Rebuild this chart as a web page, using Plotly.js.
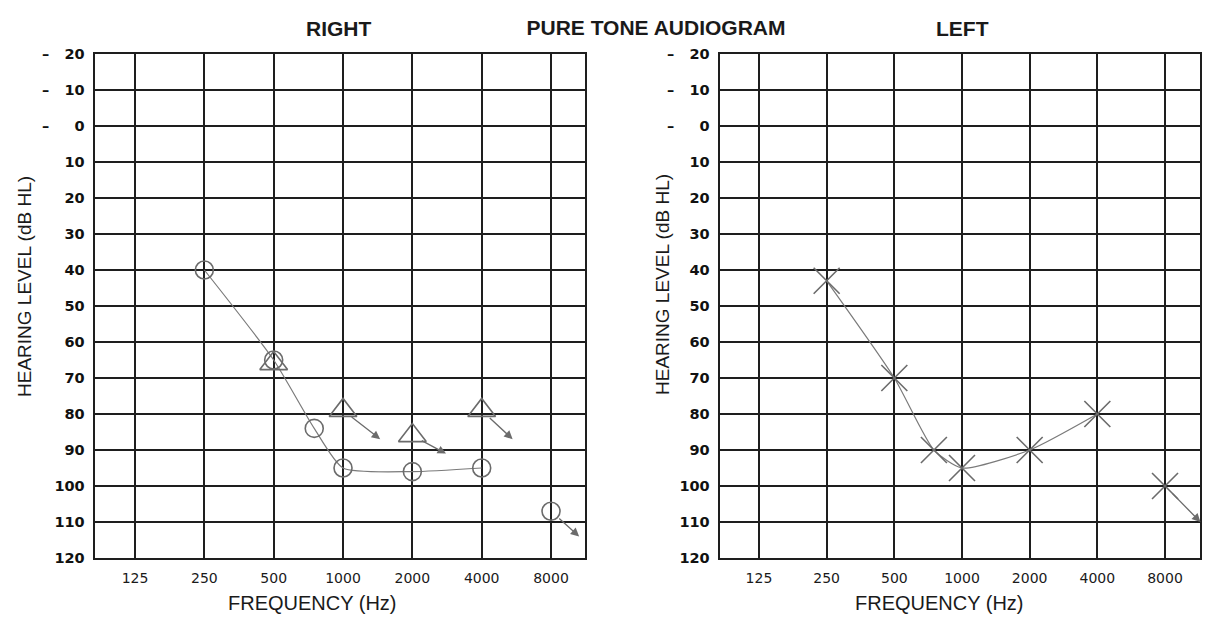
<!DOCTYPE html>
<html>
<head>
<meta charset="utf-8">
<script src="https://cdn.plot.ly/plotly-3.0.1.min.js"></script>
<style>html,body{margin:0;padding:0;background:#fff;}#chart{width:1212px;height:619px;}</style>
</head>
<body>
<div id="chart"></div>
<script>
// ---- Data ----
var freqTicks = [125, 250, 500, 1000, 2000, 4000, 8000];
var freqTickLabels = ['125', '250', '500', '1000', '2000', '4000', '8000'];
var dbTicks = [-20, -10, 0, 10, 20, 30, 40, 50, 60, 70, 80, 90, 100, 110, 120];

// Right ear (left panel) - circles
var rightAirFreq = [250, 500, 750, 1000, 2000, 4000];
var rightAirDb = [40, 65, 84, 95, 96, 95];
var rightNoRespFreq = [8000];
var rightNoRespDb = [107];
// Right ear - triangles
var rightTriFreq = [500, 1000, 2000, 4000];
var rightTriDb = [66, 79, 86, 79];
// Right ear arrows (no response markers)
var rightArrowFromFreq = [1000, 2000, 4000, 8000];
var rightArrowFromDb = [79, 86, 79, 107];
var rightArrowToFreq = [1450, 2800, 5450, 10600];
var rightArrowToDb = [87, 91, 87, 114];

// Left ear (right panel) - crosses
var leftAirFreq = [250, 500, 750, 1000, 2000, 4000];
var leftAirDb = [43, 70, 90, 95, 90, 80];
var leftNoRespFreq = [8000];
var leftNoRespDb = [100];
var leftArrowFromFreq = [8000];
var leftArrowFromDb = [100];
var leftArrowToFreq = [11500];
var leftArrowToDb = [110];

// ---- Styles ----
var ink = '#6b6b6b';
var gridInk = '#1e1e1e';

var traces = [
  {x: rightAirFreq, y: rightAirDb, xaxis: 'x', yaxis: 'y', mode: 'lines+markers', type: 'scatter',
   line: {color: '#7a7a7a', width: 1.2, shape: 'spline', smoothing: 0.6},
   marker: {symbol: 'circle-open', size: 18, color: ink, line: {width: 1.6, color: ink}}, cliponaxis: false},
  {x: rightNoRespFreq, y: rightNoRespDb, xaxis: 'x', yaxis: 'y', mode: 'markers', type: 'scatter',
   marker: {symbol: 'circle-open', size: 18, color: ink, line: {width: 1.6, color: ink}}},
  {x: rightTriFreq, y: rightTriDb, xaxis: 'x', yaxis: 'y', mode: 'markers', type: 'scatter',
   marker: {symbol: 'triangle-up-open', size: 24, color: ink, line: {width: 1.6, color: ink}}},
  {x: leftAirFreq, y: leftAirDb, xaxis: 'x2', yaxis: 'y2', mode: 'lines+markers', type: 'scatter',
   line: {color: '#7a7a7a', width: 1.2, shape: 'spline', smoothing: 0.6},
   marker: {symbol: 'x-thin-open', size: 26, color: ink, line: {width: 1.6, color: ink}}},
  {x: leftNoRespFreq, y: leftNoRespDb, xaxis: 'x2', yaxis: 'y2', mode: 'markers', type: 'scatter',
   marker: {symbol: 'x-thin-open', size: 26, color: ink, line: {width: 1.6, color: ink}}}
];

function arrows(fromF, fromD, toF, toD, xr, yr) {
  var out = [];
  for (var i = 0; i < fromF.length; i++) {
    out.push({
      x: Math.log10(toF[i]), y: toD[i], ax: Math.log10(fromF[i]), ay: fromD[i],
      xref: xr, yref: yr, axref: xr, ayref: yr, text: '', showarrow: true,
      arrowhead: 2, arrowsize: 1.3, arrowwidth: 1.3, arrowcolor: ink, startstandoff: 9
    });
  }
  return out;
}

var tickFontY = {family: 'DejaVu Sans', size: 14.5, color: '#111', weight: 'bold'};
var tickFontX = {family: 'DejaVu Sans', size: 14, color: '#1a1a1a'};
var yTickText = dbTicks.map(function (v) {
  if (v < 0) return '\u2013\u00a0\u00a0\u00a0' + Math.abs(v);
  if (v === 0) return '\u2013\u00a0\u00a0\u00a0\u2007' + v;
  return String(v);
});

function xAxis(domain, range, anchor) {
  return {type: 'log', domain: domain, range: range, anchor: anchor,
    tickvals: freqTicks, ticktext: freqTickLabels, tickfont: tickFontX,
    showgrid: true, gridcolor: gridInk, gridwidth: 2.2, zeroline: false,
    showline: true, linecolor: gridInk, linewidth: 2.4, mirror: true,
    ticks: '', ticklabelstandoff: 6, fixedrange: true};
}
function yAxis(domain, anchor) {
  return {domain: domain, range: [120, -20], anchor: anchor,
    tickvals: dbTicks, ticktext: yTickText, tickfont: tickFontY,
    showgrid: true, gridcolor: gridInk, gridwidth: 2.2, zeroline: false,
    showline: true, linecolor: gridInk, linewidth: 2.4, mirror: true,
    ticks: '', ticklabelstandoff: 5, fixedrange: true};
}

var yDom = [1 - 558 / 619, 1 - 54 / 619];
var titleFont = {family: 'Liberation Sans, Arial', size: 21, color: '#1a1a1a', weight: 'bold'};
var axTitleFont = {family: 'Liberation Sans, Arial', size: 20, color: '#1a1a1a'};

var annotations = [
  {text: 'RIGHT', x: 339 / 1212, y: 1 - 28 / 619, xref: 'paper', yref: 'paper', showarrow: false, font: titleFont, xanchor: 'center', yanchor: 'middle'},
  {text: 'LEFT', x: 962 / 1212, y: 1 - 28 / 619, xref: 'paper', yref: 'paper', showarrow: false, font: titleFont, xanchor: 'center', yanchor: 'middle'},
  {text: 'FREQUENCY (Hz)', x: 312 / 1212, y: 1 - 603 / 619, xref: 'paper', yref: 'paper', showarrow: false, font: axTitleFont, xanchor: 'center', yanchor: 'middle'},
  {text: 'FREQUENCY (Hz)', x: 940 / 1212, y: 1 - 603 / 619, xref: 'paper', yref: 'paper', showarrow: false, font: axTitleFont, xanchor: 'center', yanchor: 'middle'},
  {text: 'HEARING LEVEL (dB HL)', x: 24 / 1212, y: 1 - 287 / 619, xref: 'paper', yref: 'paper', showarrow: false, font: {family: 'Liberation Sans, Arial', size: 19, color: '#1a1a1a'}, textangle: -90, xanchor: 'center', yanchor: 'middle'},
  {text: 'HEARING LEVEL (dB HL)', x: 662 / 1212, y: 1 - 285 / 619, xref: 'paper', yref: 'paper', showarrow: false, font: {family: 'Liberation Sans, Arial', size: 19, color: '#1a1a1a'}, textangle: -90, xanchor: 'center', yanchor: 'middle'}
].concat(
  arrows(rightArrowFromFreq, rightArrowFromDb, rightArrowToFreq, rightArrowToDb, 'x', 'y'),
  arrows(leftArrowFromFreq, leftArrowFromDb, leftArrowToFreq, leftArrowToDb, 'x2', 'y2')
);

var layout = {
  width: 1212, height: 619,
  margin: {l: 0, r: 0, t: 0, b: 0},
  paper_bgcolor: '#ffffff', plot_bgcolor: '#ffffff',
  showlegend: false,
  title: {text: 'PURE TONE AUDIOGRAM', x: 656 / 1212, y: 1 - 28 / 619, xanchor: 'center', yanchor: 'middle', xref: 'paper', yref: 'paper', font: titleFont},
  xaxis: xAxis([95 / 1212, 585 / 1212], [1.9232, 4.0506], 'y'),
  yaxis: yAxis(yDom, 'x'),
  xaxis2: xAxis([720 / 1212, 1200 / 1212], [1.9235, 4.0587], 'y2'),
  yaxis2: yAxis(yDom, 'x2'),
  annotations: annotations
};

Plotly.newPlot('chart', traces, layout, {displayModeBar: false, staticPlot: true});
</script>
</body>
</html>
